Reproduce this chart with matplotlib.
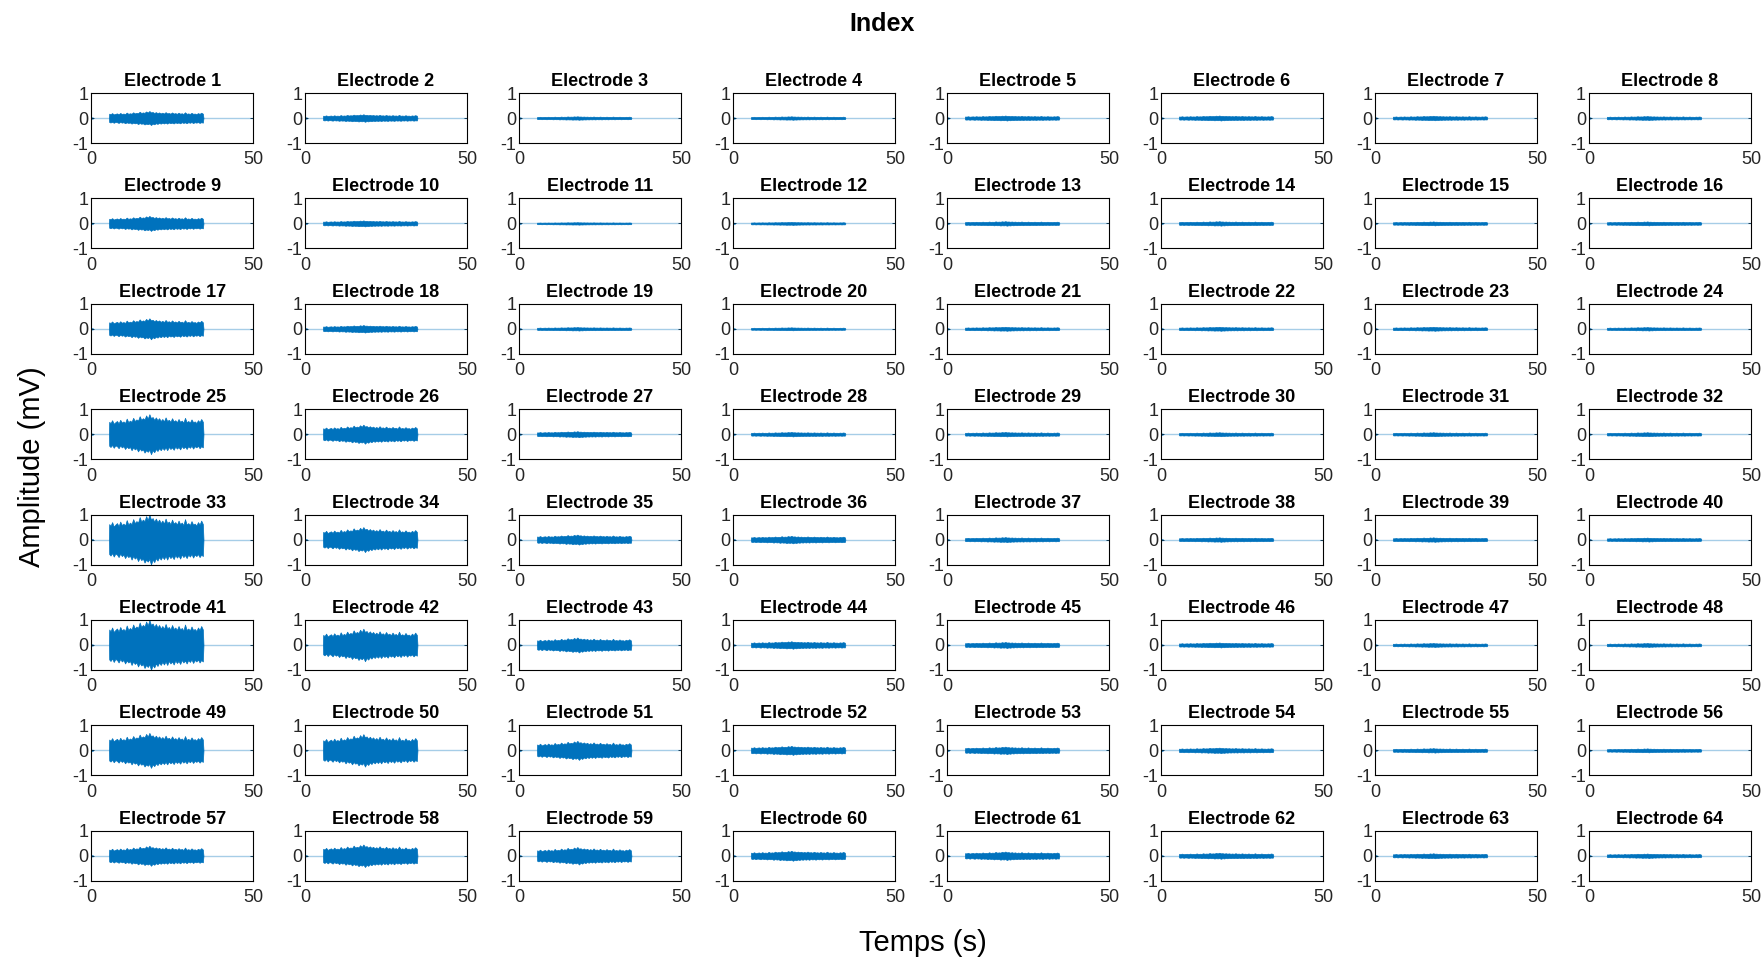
import matplotlib

matplotlib.use("Agg")
import matplotlib.pyplot as plt
import numpy as np

plt.rcParams["font.family"] = ["Liberation Sans", "DejaVu Sans"]
plt.rcParams["axes.unicode_minus"] = False

# peak half-amplitude (mV) of each electrode's burst
AMPS = [
    0.28, 0.15, 0.07, 0.07, 0.10, 0.10, 0.09, 0.08,
    0.30, 0.12, 0.05, 0.06, 0.09, 0.09, 0.08, 0.08,
    0.42, 0.15, 0.07, 0.06, 0.08, 0.08, 0.08, 0.07,
    0.80, 0.38, 0.12, 0.09, 0.09, 0.08, 0.08, 0.08,
    1.00, 0.50, 0.20, 0.15, 0.10, 0.09, 0.09, 0.08,
    1.00, 0.65, 0.30, 0.15, 0.12, 0.10, 0.08, 0.08,
    0.70, 0.65, 0.38, 0.18, 0.15, 0.11, 0.09, 0.08,
    0.40, 0.45, 0.35, 0.20, 0.17, 0.12, 0.10, 0.09,
]

# shared burst envelope (normalised), read from electrodes 33/41
ENV_T = [5.5, 5.6, 6.0, 6.5, 7.0, 7.5, 8.0, 8.5, 9.0, 9.5, 10.0, 10.5, 11.0, 11.5, 12.0,
         12.5, 13.0, 13.5, 14.0, 14.5, 15.0, 15.5, 16.0, 16.5, 17.0, 17.5, 18.0, 18.5,
         19.0, 19.5, 20.0, 20.5, 21.0, 21.5, 22.0, 22.5, 23.0, 23.5, 24.0, 24.5, 25.0,
         25.5, 26.0, 26.5, 27.0, 27.5, 28.0, 28.5, 29.0, 29.5, 30.0, 30.5, 31.0, 31.5,
         32.0, 32.5, 33.0, 33.5, 34.0, 34.5, 34.7]
ENV_UP = [0.0, 0.62, 0.55, 0.7, 0.52, 0.6, 0.66, 0.54, 0.72, 0.58, 0.64, 0.56, 0.78, 0.6, 0.68,
          0.62, 0.82, 0.66, 0.74, 0.68, 0.9, 0.72, 0.8, 0.74, 0.94, 0.78, 1.0, 0.8,
          0.86, 0.72, 0.84, 0.7, 0.8, 0.66, 0.76, 0.64, 0.84, 0.66, 0.72, 0.62, 0.8,
          0.64, 0.7, 0.6, 0.76, 0.62, 0.68, 0.58, 0.82, 0.6, 0.66, 0.58, 0.74, 0.6,
          0.64, 0.56, 0.7, 0.6, 0.76, 0.62, 0.0]
ENV_LO = [0.0, 0.58, 0.64, 0.54, 0.68, 0.56, 0.6, 0.7, 0.56, 0.66, 0.6, 0.74, 0.62, 0.7, 0.64,
          0.8, 0.66, 0.76, 0.7, 0.86, 0.72, 0.82, 0.76, 0.92, 0.8, 0.88, 0.78, 1.0,
          0.8, 0.9, 0.74, 0.84, 0.7, 0.8, 0.68, 0.78, 0.66, 0.8, 0.64, 0.74, 0.66,
          0.78, 0.62, 0.72, 0.64, 0.76, 0.6, 0.7, 0.62, 0.74, 0.6, 0.68, 0.58, 0.72,
          0.6, 0.66, 0.58, 0.7, 0.6, 0.66, 0.0]

BLUE = "#0072BD"
T_END = 50

fig, axes = plt.subplots(8, 8, figsize=(17.65, 9.63), dpi=100)
fig.subplots_adjust(left=0.0516, right=0.992, top=0.9034, bottom=0.0854, wspace=0.321, hspace=1.108)

env_t = np.array(ENV_T)
up = np.array(ENV_UP)
lo = np.array(ENV_LO)

for i, ax in enumerate(axes.flat):
    a = AMPS[i]
    ax.plot([0, T_END], [0, 0], color=BLUE, lw=1.0, alpha=0.35)
    ax.fill_between([0, 0.15, 0.5, 0.6], [0, 0.03, 0.03, 0], [0, -0.03, -0.03, 0],
                    color=BLUE, lw=0.5, alpha=0.7)
    ax.fill_between(env_t, up * a, -lo * a, color=BLUE, lw=0.5)
    ax.set_xlim(0, T_END)
    ax.set_ylim(-1, 1)
    ax.set_xticks([0, 50])
    ax.set_yticks([-1, 0, 1])
    ax.tick_params(direction="in", length=2, width=0.6, labelsize=13,
                   labelcolor="#262626", pad=2, top=True, right=True,
                   labeltop=False, labelright=False)
    ax.tick_params(axis="x", pad=6)
    for s in ax.spines.values():
        s.set_linewidth(0.8)
    ax.set_title(f"Electrode {i + 1}", fontsize=13, fontweight="bold", pad=5)

fig.suptitle("Index", fontsize=18, fontweight="bold", y=0.988)
fig.supxlabel("Temps (s)", fontsize=21, x=0.523, y=0.006)
fig.supylabel("Amplitude (mV)", fontsize=21, x=0.01, y=0.515)

fig.savefig("out.png", dpi=100)
